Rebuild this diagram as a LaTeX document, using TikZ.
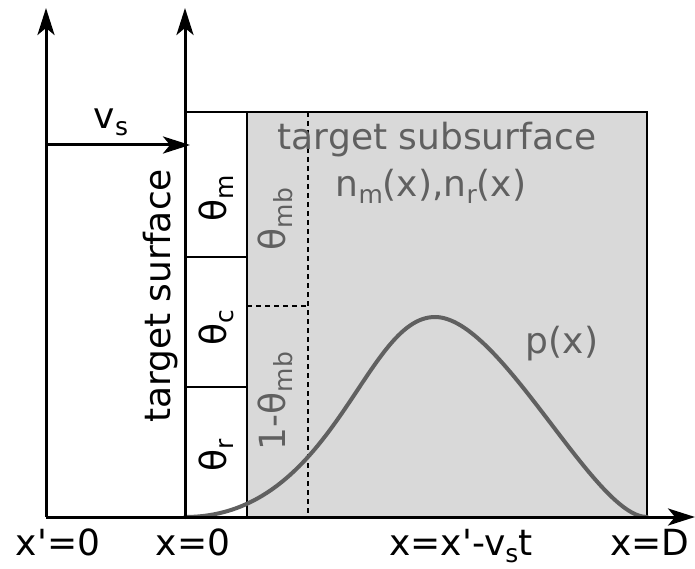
\documentclass[tikz,border=0pt]{standalone}
\usepackage{fontspec}
\newfontfamily\dvfont{DejaVu Sans}
\usetikzlibrary{arrows.meta}
\definecolor{fillgray}{HTML}{D9D9D9}
\definecolor{txtgray}{HTML}{606060}
\newcommand{\lowsub}[1]{\raisebox{-0.2em}{\fontsize{25}{25}\selectfont #1}}
\tikzset{
  lbl/.style={font=\dvfont\fontsize{36}{42}\selectfont, inner sep=0pt},
  graylbl/.style={lbl, text=txtgray},
  axis/.style={line width=3pt, -{Stealth[length=27pt,width=17pt,inset=7pt]}},
  boxline/.style={line width=1.8pt},
  dashline/.style={line width=1.4pt, dash pattern=on 5pt off 4pt},
}
\begin{document}
\begin{tikzpicture}[x=1pt,y=-1pt]
\useasboundingbox (0,0) rectangle (695,569);
% gray subsurface
\fill[fillgray] (247,112) rectangle (647,517);
% boxes
\draw[boxline] (185,112) rectangle (647,517);
\draw[boxline] (247,112) -- (247,517);
\draw[boxline] (185,257) -- (247,257);
\draw[boxline] (185,387) -- (247,387);
% dashed lines
\draw[dashline] (308,112) -- (308,517);
\draw[dashline] (247,306) -- (308,306);
% curve p(x)
\draw[line width=4pt, color=txtgray, line cap=round]
  (185,517) .. controls (334,517) and (364,317) .. (435,317)
  .. controls (501,317) and (594,517) .. (647,517);
% axes
\coordinate (o1) at (46,517);
\coordinate (t1) at (46,8);
\coordinate (o2) at (185,517);
\coordinate (t2) at (185,8);
\coordinate (xe) at (695,517);
\coordinate (vs0) at (46,145);
\coordinate (vs1) at (190,145);
\draw[axis] (o1) -- (t1);
\draw[axis] (o2) -- (t2);
\draw[axis] (o1) -- (xe);
\draw[axis] (vs0) -- (vs1);
% labels
\node[lbl] (vs) at (111,122) {v\lowsub{s}};
\node[lbl, rotate=90] (ts) at (161,296) {target surface};
\node[lbl, rotate=90] (tm) at (216,198) {θ\lowsub{m}};
\node[lbl, rotate=90] (tc) at (216,328) {θ\lowsub{c}};
\node[lbl, rotate=90] (tr) at (216,455) {θ\lowsub{r}};
\node[graylbl, rotate=90] (tmb) at (275,219) {θ\lowsub{mb}};
\node[graylbl, rotate=90] (tmb1) at (275,401) {1-θ\lowsub{mb}};
\node[graylbl] (sub) at (437,140) {target subsurface};
\node[graylbl] (nm) at (431,186) {n\lowsub{m}(x),n\lowsub{r}(x)};
\node[graylbl] (px) at (562,344) {p(x)};
\node[lbl, anchor=base] (l1) at (58,555) {x'=0};
\node[lbl, anchor=base] (l2) at (193,555) {x=0};
\node[lbl, anchor=base] (l3) at (461,555) {x=x'-v\lowsub{s}t};
\node[lbl, anchor=base] (l4) at (650,555) {x=D};
\end{tikzpicture}
\end{document}
